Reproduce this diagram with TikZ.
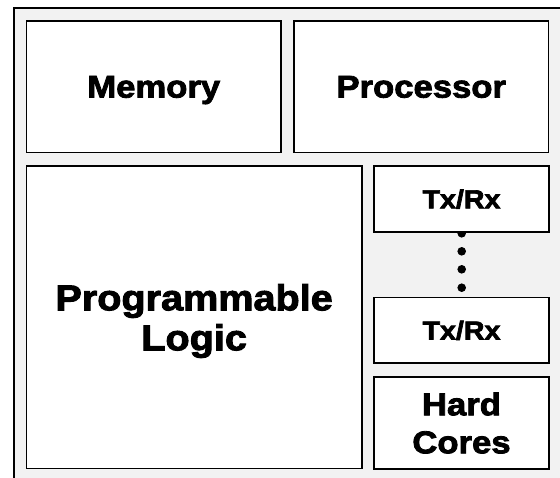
\documentclass[tikz,border=0pt]{standalone}
\usepackage{fontspec}
\setmainfont{Liberation Sans}[FakeStretch=1.1,BoldFeatures={FakeBold=2.6}]
\definecolor{panel}{RGB}{242,242,242}
\begin{document}
\begin{tikzpicture}[x=1pt,y=-1pt,
  block/.style={draw=black,fill=white,line width=1.6pt,inner sep=0pt,
    align=center,text depth=0pt,
    font=\bfseries\fontsize{31.5}{38}\selectfont},
  smallblock/.style={block,font=\bfseries\fontsize{26}{31}\selectfont},
  bigblock/.style={block,font=\bfseries\fontsize{36}{40}\selectfont},
  dot/.style={circle,fill=black,inner sep=0pt,minimum size=8.6pt}]
\useasboundingbox (0,0) rectangle (560,477);
\clip (0,0) rectangle (560,477);
\fill[white] (0,0) rectangle (560,477);
% device outline, running off the right and bottom edges
\draw[fill=panel,line width=2pt] (13.5,7.5) rectangle (590,510);
% continuation dots between the transceivers
\foreach \y [count=\i] in {233.3,251.3,269.3,287.7}
  \node[dot] (d\i) at (461.7,\y) {};
% functional blocks
\node[block,minimum width=254.5pt,minimum height=131.5pt] (mem) at (153.75,86.75) {Memory};
\node[block,minimum width=254.5pt,minimum height=131.5pt] (cpu) at (421.25,86.75) {Processor};
\node[bigblock,minimum width=335.2pt,minimum height=302.5pt] (pl) at (194.1,317.25) {Programmable\\Logic};
\node[smallblock,minimum width=175pt,minimum height=65.7pt] (tx1) at (461.5,198.85) {Tx/Rx};
\node[smallblock,minimum width=175pt,minimum height=65.2pt] (tx2) at (461.5,330.1) {Tx/Rx};
\node[block,minimum width=175pt,minimum height=92.3pt] (hc) at (461.5,422.85) {Hard\\Cores};
\end{tikzpicture}
\end{document}
